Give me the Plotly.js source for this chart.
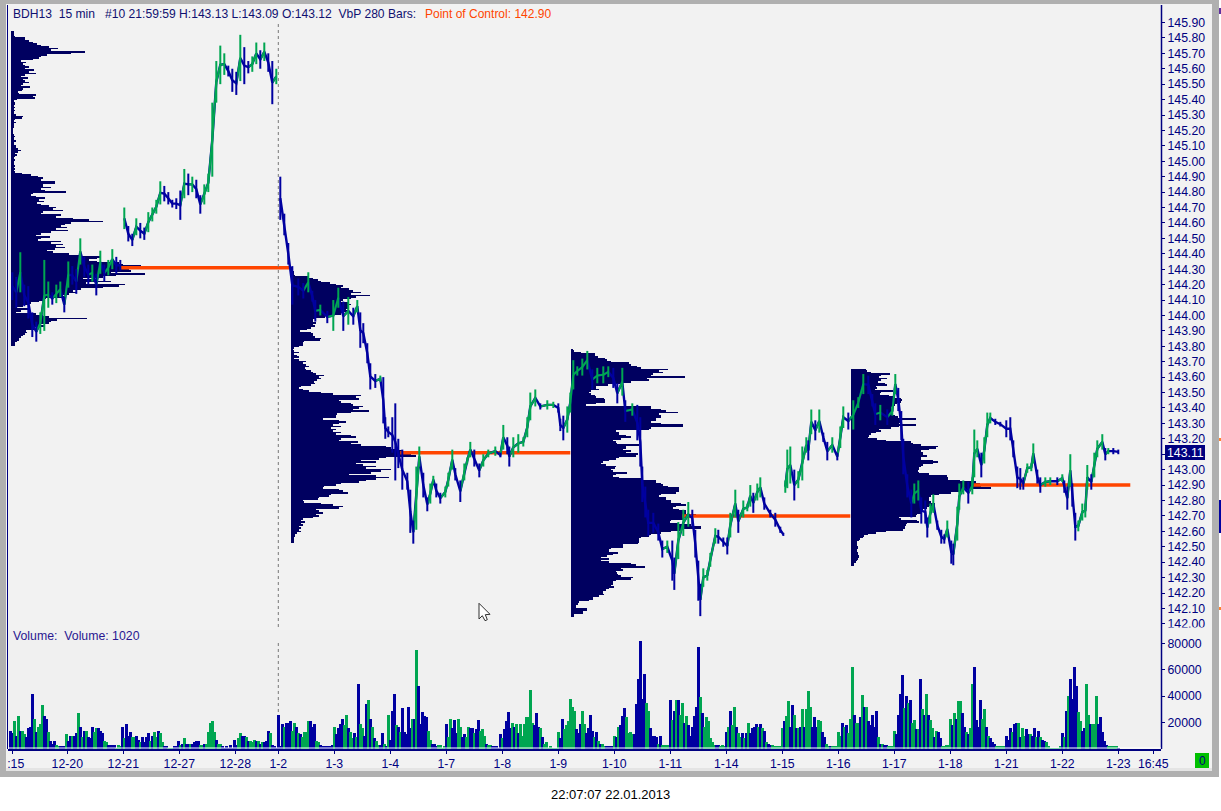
<!DOCTYPE html>
<html>
<head>
<meta charset="utf-8">
<script src="https://cdn.plot.ly/plotly-3.0.1.min.js"></script>
<style>html,body{margin:0;padding:0;background:#fff;overflow:hidden}#chart{width:1221px;height:811px}</style>
</head>
<body>
<div id="chart"></div>
<script>
// Category labels for the time axis and the bar numbers they sit on
const dayLabels = ['\u00a0\u00a0:15','12-20','12-21','12-27','12-28','1-2','1-3','1-4','1-7','1-8','1-9','1-10','1-11','1-14','1-15','1-16','1-17','1-18','1-21','1-22','1-23','16:45'];
const dayBars = [0,27.5,55.5,83.5,111.5,133,161,189,217,245,273,301,329,357,385,413,441,469,497,525,553,570.5];
const volumeTicks = [20000,40000,60000,80000];

// Price path, sampled: bar number, bar high, bar low
const priceBar = [0,2,4,6,8,10,12,14,16,18,20,22,24,26,28,30,32,34,36,38,40,42,44,46,48,50,52,54,56,58,60,62,64,66,68,70,72,74,76,78,80,82,84,86,88,90,92,94,96,98,100,102,104,106,108,110,112,114,116,118,120,122,124,126,128,130,132,
134,136,138,140,143,145.5,148,150,151.5,154,157.5,160.5,163,165.5,168,170.5,172.5,174,175.5,177.5,179,181.5,184,185.5,186.5,188,190,191.5,193,195,197.5,199,200.5,202,203.5,205.5,207.5,209,210.5,212,214,216.5,218,220,221.5,224,226,227.5,229,231,233.5,235.5,238,241.5,244,245.5,247.5,248.5,250.5,253,255.5,257.5,259,261.5,264,267.5,270.5,273,274,275.5,277.5,279,
280.5,282.5,285,287.5,290,292.5,295.5,298,300.5,302.5,305,306.5,310,312.5,314,315,316.5,318,320.5,323,325,327.5,330,331,333,335.5,338,340,341.5,343,344,345.5,347.5,349,351.5,353,355.5,357.5,359,361.5,363,365.5,367.5,369,370.5,372.5,374,376,379,381.5,384,385.5,386.5,387.5,389,391,393,395,397,398,399.5,401.5,403.5,405.5,407.5,410,412.5,414,415.5,418,420.5,423,425.5,428,430,431.5,434,437.5,440,441.5,443,444.5,445.5,447.5,449.5,451,453,454.5,456.5,457.5,459,460.5,462.5,464.5,466,467.5,469.5,470.5,472.5,473.5,475.5,478,480,481,482.5,484.5,486,487.5,489,491.5,494,497,499,500.5,502.5,504,505.5,507.5,509.5,510.5,512.5,514,516.5,519,522.5,525,526,527.5,529,530,531.5,533,535,536.5,537.5,539.5,541,542.5,545,546.5,548,550.5,553];
const priceHigh = [144.28,144.25,144.41,144.20,144.19,144.02,143.96,144.02,144.36,144.22,144.15,144.20,144.22,144.12,144.35,144.32,144.30,144.50,144.38,144.33,144.33,144.27,144.42,144.33,144.36,144.43,144.38,144.36,144.70,144.58,144.53,144.63,144.60,144.57,144.67,144.70,144.75,144.87,144.84,144.80,144.75,144.76,144.81,144.95,144.92,144.90,144.88,144.78,144.85,144.92,145.38,145.65,145.75,145.70,145.62,145.60,145.58,145.82,145.74,145.65,145.68,145.77,145.72,145.77,145.70,145.65,145.60,
144.90,144.66,144.47,144.32,144.24,144.21,144.28,144.16,144.10,144.07,144.03,144.10,144.18,144.09,144.12,144.05,144.10,144.02,143.95,143.82,143.69,143.62,143.61,143.60,143.34,143.28,143.34,143.43,143.20,143.13,142.98,142.87,142.67,143.02,143.15,142.98,142.82,142.91,142.96,142.91,142.85,142.89,142.98,143.13,143.01,142.93,143.04,143.08,143.18,143.13,143.04,143.10,143.13,143.15,143.11,143.29,143.21,143.15,143.21,143.23,143.21,143.34,143.50,143.52,143.43,143.45,143.44,143.43,143.33,143.35,143.41,143.50,
143.71,143.67,143.72,143.77,143.65,143.66,143.67,143.67,143.66,143.56,143.66,143.45,143.43,143.42,143.34,143.02,142.89,142.74,142.72,142.65,142.54,142.54,142.54,142.43,142.66,142.74,142.79,142.74,142.61,142.41,142.26,142.36,142.35,142.46,142.62,142.61,142.56,142.56,142.72,142.87,142.74,142.80,142.78,142.90,142.85,142.91,142.95,142.82,142.74,142.72,142.63,142.59,142.93,143.13,143.15,143.00,142.99,143.15,143.21,143.19,143.39,143.32,143.39,143.24,143.18,143.21,143.11,143.28,143.41,143.37,143.45,143.47,143.62,143.61,143.49,143.43,143.42,143.39,143.41,143.62,143.53,143.38,143.20,142.97,142.87,142.91,142.93,142.82,142.80,142.69,142.78,142.84,142.67,142.61,142.58,142.67,142.54,142.52,142.76,142.91,142.93,142.92,142.95,143.26,143.19,143.11,143.21,143.37,143.37,143.33,143.31,143.32,143.34,143.19,143.02,143.01,142.95,143.04,143.04,143.17,143.00,142.95,142.95,142.95,142.95,142.97,142.93,142.89,143.10,142.91,142.72,142.67,142.78,142.78,143.03,142.97,143.11,143.19,143.23,143.14,143.14,143.14,143.13];
const priceLow = [144.10,144.05,144.15,144.06,143.98,143.86,143.83,143.88,143.90,144.05,144.07,144.08,144.12,144.02,144.18,144.20,144.14,144.33,144.25,144.20,144.22,144.13,144.27,144.22,144.26,144.30,144.27,144.29,144.56,144.48,144.45,144.52,144.50,144.49,144.54,144.61,144.66,144.72,144.74,144.72,144.70,144.69,144.62,144.76,144.78,144.80,144.76,144.66,144.72,144.80,144.90,145.38,145.50,145.56,145.55,145.45,145.43,145.52,145.50,145.57,145.58,145.63,145.60,145.65,145.58,145.37,145.50,
144.62,144.52,144.33,144.07,144.13,144.11,144.15,144.09,143.96,144.00,143.95,143.90,144.05,143.90,143.94,143.94,144.02,143.79,143.82,143.69,143.52,143.53,143.57,143.30,143.20,143.21,143.11,142.93,143.01,142.87,142.87,142.59,142.52,142.61,143.02,142.82,142.73,142.78,142.91,142.82,142.78,142.82,142.89,143.00,142.93,142.79,142.93,143.04,143.08,143.02,142.95,143.02,143.08,143.09,143.08,143.13,143.10,143.02,143.08,143.11,143.15,143.21,143.32,143.41,143.39,143.39,143.40,143.37,143.25,143.19,143.24,143.37,
143.52,143.61,143.61,143.65,143.52,143.56,143.56,143.60,143.53,143.43,143.48,143.31,143.35,143.19,143.02,142.79,142.69,142.57,142.59,142.54,142.43,142.46,142.28,142.22,142.42,142.57,142.63,142.63,142.43,142.15,142.05,142.24,142.28,142.37,142.52,142.52,142.50,142.45,142.56,142.69,142.59,142.69,142.73,142.76,142.72,142.80,142.82,142.74,142.69,142.63,142.59,142.57,142.85,142.88,142.91,142.80,142.88,142.93,143.11,143.06,143.23,143.19,143.24,143.18,143.06,143.11,143.06,143.14,143.27,143.26,143.26,143.40,143.49,143.49,143.41,143.29,143.32,143.29,143.35,143.49,143.38,143.19,142.97,142.82,142.69,142.78,142.80,142.65,142.65,142.56,142.65,142.72,142.61,142.52,142.52,142.56,142.39,142.38,142.54,142.74,142.84,142.78,142.84,142.95,143.08,142.95,143.04,143.21,143.30,143.29,143.28,143.21,143.19,143.08,142.88,142.87,142.87,142.98,142.99,143.04,142.91,142.85,142.89,142.90,142.90,142.92,142.85,142.74,142.89,142.76,142.54,142.60,142.67,142.69,142.87,142.87,142.95,143.08,143.13,143.06,143.10,143.10,143.10];

// Volume per bar in thousands: sign gives the bar's direction (+ up, - down). First bar is number -1.
const signedVolumeK = [
-14,-12,21,-10,25,-14,14,11,-9,-16,-17,-42,23,-13,17,19,33,-25,-23,13,-6,-4,-6,3,2,-2,-2,-2,
11,-6,-10,10,-10,-12,27,-17,9,-14,14,-9,-8,-17,13,16,-16,-14,-12,6,5,-3,-3,-3,-3,1,3,2,
-17,8,-19,-10,-13,9,9,-10,-7,5,-9,-5,-9,-12,6,-10,13,9,-14,12,5,-2,-2,1,1,1,-2,-2,
-6,3,-4,8,-4,-4,4,-4,-5,-6,-6,3,3,-4,4,13,20,21,13,-7,4,4,-2,-1,-2,-1,-3,-1,
-7,-3,8,12,-10,-10,9,-6,6,5,7,-6,6,-4,5,-5,-6,-14,12,-3,-2,-1,
-26,-2,-19,17,-20,-20,-21,14,20,-17,12,-11,9,13,13,21,-21,-17,-19,6,5,-3,-2,-2,-2,-2,-2,-3,
17,-11,-16,-19,-23,18,26,-16,13,8,-12,9,-49,19,16,-10,-34,37,-23,17,-8,6,3,-3,-12,4,-2,
26,-7,-29,-42,18,-17,13,-31,-13,-11,-32,-16,23,-23,75,-48,-19,-28,-25,-24,14,7,-4,-4,-2,3,3,1,2,
-19,9,23,-16,-22,-12,23,17,-9,-11,9,17,-16,-16,12,-15,-22,14,15,10,-4,3,3,-2,-2,-2,-1,-11,
8,-15,-21,-28,-16,20,-17,19,-12,19,10,19,24,24,45,20,-18,-27,-17,16,-9,4,5,1,2,1,1,1,
13,-8,-23,15,18,21,38,32,29,-15,-12,-19,29,19,-12,-16,-26,-14,9,-13,6,-4,4,2,-2,-2,-2,-2,
10,-9,17,-18,-25,-31,24,12,13,11,-11,-34,-53,-82,-38,-57,35,29,-16,-10,-10,-9,4,-10,3,3,3,3,
-37,22,-29,37,-37,26,35,-20,25,-18,-10,-17,-25,-32,-77,39,-27,17,24,21,8,5,3,-3,-3,2,3,2,
-13,17,-29,18,32,-17,12,9,-12,8,-12,20,-12,-16,-17,-19,17,-19,16,-14,5,-4,-3,3,2,2,2,2,
16,-21,25,36,-17,-33,26,-16,16,-17,30,-17,30,44,32,-17,-24,-17,22,21,-13,-9,4,2,-2,2,2,2,
13,10,-20,17,-18,12,23,62,-26,20,20,-24,41,-32,32,-21,-18,-26,-17,-29,9,-4,4,-3,-3,2,2,2,
14,-11,-26,-42,-56,31,-40,35,-37,20,22,-15,15,-53,30,-26,42,-26,22,16,-9,14,-13,-8,2,2,3,3,
23,-18,27,-23,36,36,-27,-17,13,-11,16,49,-62,-22,-17,-37,23,30,-17,10,-8,-5,-4,2,2,2,2,2,
-10,-7,-16,13,-19,-20,20,-9,16,10,-15,-11,11,-10,-16,9,-14,9,-7,-6,5,2,1,1,1,1,1,2,
-12,9,-29,40,-53,-38,-62,-48,28,21,-14,-16,49,26,-19,19,19,40,-19,-24,-13,-6,-3,2,2,2,2,2,-1];

// Volume-by-price profiles: one row per 0.01 of price, from the top price down
const profileStartBars = [-0.65,139.35,279.35,419.35];
const profileTopPrices = [145.84,144.31,143.78,143.65];
const profileA = [3,3,3,4,14,14,18,22,26,30,38,47,40,74,60,36,30,28,22,10,15,12,14,18,14,23,18,25,14,10,17,12,14,18,12,10,19,12,11,7,8,25,22,24,6,3,4,4,3,4,3,4,3,3,5,12,11,4,3,5,3,3,3,2,2,2,2,3,4,3,3,5,3,3,5,5,7,10,7,4,6,4,3,4,3,3,3,4,3,4,3,4,11,20,27,32,30,44,44,32,32,40,30,34,55,22,20,25,34,28,33,26,30,38,45,42,52,32,30,50,45,62,78,92,60,54,50,56,45,57,40,30,25,39,30,27,50,40,52,45,54,44,36,42,58,68,90,86,78,86,108,112,130,140,118,120,100,134,105,92,72,86,100,75,114,108,92,70,62,66,58,50,55,35,32,28,20,17,12,6,18,10,5,25,32,38,76,46,40,38,30,34,24,25,15,16,14,12,10,8,8,6,4,4];
const profileB = [2,2,2,3,3,4,17,22,27,30,39,45,52,50,58,62,70,60,79,65,60,52,50,58,60,58,57,55,56,52,50,42,34,25,22,22,25,22,24,20,16,9,20,22,22,24,30,29,13,12,12,8,3,2,3,8,3,6,8,3,8,15,12,15,18,14,15,20,22,25,33,28,30,26,23,24,20,10,8,12,18,30,42,70,65,68,48,50,60,62,72,68,62,78,60,46,45,45,32,48,55,48,42,50,40,45,42,50,45,60,65,50,48,67,60,70,95,100,107,112,122,120,125,95,88,70,85,65,72,85,75,100,90,80,58,85,98,85,75,68,50,45,33,32,48,52,57,40,38,28,27,12,13,30,42,52,48,25,28,32,25,28,22,12,10,14,10,12,8,10,8,10,6,4,4,3,3,3,3];
const profileC = [2,3,10,24,24,27,34,36,40,58,60,66,70,97,88,92,82,80,114,76,78,60,50,37,25,25,28,20,18,20,24,25,33,34,34,25,15,80,80,90,95,107,88,90,90,85,85,80,90,112,112,80,78,45,48,48,55,60,50,42,45,46,68,55,55,52,60,55,67,65,48,45,38,32,30,35,45,44,40,42,56,45,42,48,70,85,85,90,92,97,108,108,108,105,90,88,95,95,100,100,110,115,105,102,108,115,115,125,140,122,112,100,99,107,120,130,130,110,100,90,80,78,70,68,68,68,67,52,52,40,38,38,47,42,36,30,38,30,38,60,65,74,50,52,45,46,47,50,62,60,45,42,42,40,43,38,35,32,32,33,28,22,22,18,8,7,5,5,16,16,12,12,3,3];
const profileD = [15,16,20,39,30,28,36,30,27,34,36,25,26,24,42,30,29,38,42,50,51,50,46,44,42,40,40,40,41,42,44,47,65,49,50,48,65,48,40,28,30,25,20,18,17,26,35,60,62,70,87,85,78,70,72,72,76,70,70,82,87,82,72,70,68,68,67,68,78,96,97,97,109,125,129,140,130,140,120,112,100,88,80,78,78,78,80,84,84,78,76,72,70,70,66,65,48,50,66,68,56,55,54,54,52,35,25,17,13,12,9,8,6,6,6,7,7,6,6,7,7,8,8,7,6,5,3,3];
const profileRows = [profileA,profileB,profileC,profileD];

// Points of control: price, first bar, last bar
const pocPrices = [144.31,143.11,142.70,142.90];
const pocFromBars = [54,194,335,480];
const pocToBars = [138.5,279,419,559];

const NAVY='#000080', PROFILE='#000060', BAR_BLUE='#0000a0', BAR_GREEN='#00a651', POC='#ff4500', FONT='"Liberation Sans", Arial, sans-serif';
const X=p=>(p-8)/1153, Y=p=>(749-p)/735;

// Price path: each sample's high-low bar, joined through the bar middles; rising steps in green
const midX=[],midY=[],barX=[],barY=[],upX=[],upY=[];
priceBar.forEach((b,i)=>{
  const hi=priceHigh[i], lo=priceLow[i], mid=(hi+lo)/2;
  const broken=i>0 && (lo-priceHigh[i-1]>0.15 || priceLow[i-1]-hi>0.15);
  if(broken){midX.push(null);midY.push(null);}
  midX.push(b);midY.push(mid);
  const rising=i>0 && (hi+lo)>(priceHigh[i-1]+priceLow[i-1]);
  if(rising){
    upX.push(b,b,null);upY.push(lo,hi,null);
    if(!broken){upX.push(priceBar[i-1],b,null);upY.push((priceHigh[i-1]+priceLow[i-1])/2,mid,null);}
  } else {
    barX.push(b,b,null);barY.push(lo,hi,null);
  }
});

const traces=[];
// POC lines
pocPrices.forEach((p,i)=>traces.push({type:'scatter',mode:'lines',x:[pocFromBars[i],pocToBars[i]],y:[p,p],xaxis:'x',yaxis:'y',line:{color:POC,width:3.5},hoverinfo:'skip',showlegend:false}));
// Profiles
profileRows.forEach((rows,k)=>{
  traces.push({type:'bar',orientation:'h',y:rows.map((_,i)=>profileTopPrices[k]-0.01*i),x:rows.map(v=>v/2),base:rows.map(()=>profileStartBars[k]),width:0.0102,xaxis:'x',yaxis:'y',marker:{color:PROFILE,line:{width:0}},hoverinfo:'skip',showlegend:false});
});
// Price
traces.push({type:'scatter',mode:'lines',x:midX,y:midY,xaxis:'x',yaxis:'y',line:{color:BAR_BLUE,width:2.4},connectgaps:false,hoverinfo:'skip',showlegend:false});
traces.push({type:'scatter',mode:'lines',x:upX,y:upY,xaxis:'x',yaxis:'y',line:{color:BAR_GREEN,width:2},connectgaps:false,hoverinfo:'skip',showlegend:false});
traces.push({type:'scatter',mode:'lines',x:barX,y:barY,xaxis:'x',yaxis:'y',line:{color:BAR_BLUE,width:2},connectgaps:false,hoverinfo:'skip',showlegend:false});
// Volume
traces.push({type:'bar',x:signedVolumeK.map((_,i)=>i-1),y:signedVolumeK.map(v=>Math.abs(v)*1000),width:1.2,xaxis:'x',yaxis:'y2',marker:{color:signedVolumeK.map(v=>v>0?BAR_GREEN:BAR_BLUE),line:{width:0}},hoverinfo:'skip',showlegend:false});

const rect=(x0,y0,x1,y1,color,layer)=>({type:'rect',xref:'paper',yref:'paper',x0:X(x0),x1:X(x1),y0:Y(y0),y1:Y(y1),fillcolor:color,line:{width:0},layer:layer||'below'});
const GRAY='#b0b0b0';
const shapes=[
  rect(6,4,1212,771,'#f2f2f2'),
  rect(8,630,1161,749,'#f0f0f0'),
  rect(0,0,1219,4,GRAY),
  rect(0,0,6,777,GRAY),
  rect(0,771,1219,777,GRAY),
  rect(1212,0,1219,777,GRAY),
  rect(6,768,1212,771,'#e4e4e4'),
  // frame lines of the panes
  {type:'line',xref:'paper',yref:'paper',x0:X(7.5),x1:X(7.5),y0:Y(5),y1:Y(749),line:{color:NAVY,width:1},layer:'above'},
  {type:'line',xref:'paper',yref:'paper',x0:X(1161.5),x1:X(1161.5),y0:Y(5),y1:Y(749),line:{color:NAVY,width:1.5},layer:'above'},
  rect(8,747.6,1161,748.6,'#ffffff','above'),
  // session separator
  {type:'line',xref:'x',yref:'paper',x0:133,x1:133,y0:Y(24),y1:Y(628),line:{color:'#777777',width:1,dash:'dot'},layer:'above'},
  {type:'line',xref:'x',yref:'paper',x0:133,x1:133,y0:Y(643),y1:Y(715),line:{color:'#777777',width:1,dash:'dot'},layer:'above'},
  // last price flag, clipped bottom label, status box
  rect(1165,445,1205,460,NAVY,'above'),
  rect(1163,627.6,1210,637,'#f2f2f2','above'),
  rect(1195,753,1209,768,'#00c000','above'),
  // neighbouring window slivers
  rect(1219,438,1221,441,'#ff8030','above'),
  rect(1219,607,1221,610,'#ff8030','above'),
  rect(1219,500,1221,533,BAR_BLUE,'above'),
  rect(1219,8,1221,14,'#6030a0','above'),
  // mouse pointer
  {type:'path',xref:'paper',yref:'paper',layer:'above',fillcolor:'#ffffff',line:{color:'#303030',width:1},
   path:'M'+[[479,603.3],[479,619],[482.3,615.7],[485,620.7],[487.3,619.7],[485.3,614.7],[490,614.3]].map(p=>X(p[0])+' '+Y(p[1])).join(' L')+' Z'}
];

const note=(text,px,py,color,anchor,size)=>({text:text,xref:'paper',yref:'paper',x:X(px),y:Y(py),xanchor:anchor||'left',yanchor:'middle',showarrow:false,borderpad:0,borderwidth:0,align:'left',font:{family:FONT,size:size||12,color:color}});

const annotations=[
  note('BDH13\u00a0\u00a015 min\u00a0\u00a0\u00a0#10 21:59:59 H:143.13 L:143.09 O:143.12\u00a0\u00a0VbP 280 Bars:',13,13.5,'#101070',null,12.1),
  note('Point of Control: 142.90',425,13.5,POC),
  note('Volume:\u00a0\u00a0Volume: 1020',13,635.5,'#2a1890',null,12.3),
  note('143.11',1185,452.5,'#ffffff','center',12.3),
  note('0',1202,760.5,NAVY,'center'),
  note('22:07:07 22.01.2013',610,794.5,'#000000','center',13)
];

const tickFont={family:FONT,size:12.3,color:NAVY};
const layout={
  width:1221,height:811,
  margin:{l:8,r:60,t:14,b:62,pad:0},
  paper_bgcolor:'#ffffff',plot_bgcolor:'rgba(0,0,0,0)',
  barmode:'overlay',bargap:0,showlegend:false,hovermode:false,
  font:{family:FONT,size:12,color:NAVY},
  xaxis:{domain:[0,1],range:[-2.15,574.35],anchor:'y2',tickmode:'array',tickvals:dayBars,ticktext:dayLabels,ticks:'outside',ticklen:3,tickwidth:1,tickcolor:NAVY,showgrid:false,zeroline:false,showline:true,linecolor:NAVY,linewidth:1.5,tickangle:0,tickfont:tickFont,automargin:false},
  yaxis:{domain:[121/735,1],range:[141.973,145.955],side:'right',anchor:'x',tickmode:'linear',tick0:142,dtick:0.1,tickformat:'.2f',ticks:'outside',ticklen:3,tickwidth:1,tickcolor:NAVY,showgrid:false,zeroline:false,showline:false,tickfont:tickFont,automargin:false},
  yaxis2:{domain:[0,109/735],range:[0,82500],side:'right',anchor:'x',tickmode:'array',tickvals:volumeTicks,ticktext:volumeTicks.map(String),ticks:'outside',ticklen:3,tickwidth:1,tickcolor:NAVY,showgrid:false,zeroline:false,showline:false,tickfont:tickFont,automargin:false},
  shapes:shapes,annotations:annotations
};
Plotly.newPlot('chart',traces,layout,{staticPlot:true,displayModeBar:false,responsive:false});
</script>
</body>
</html>
